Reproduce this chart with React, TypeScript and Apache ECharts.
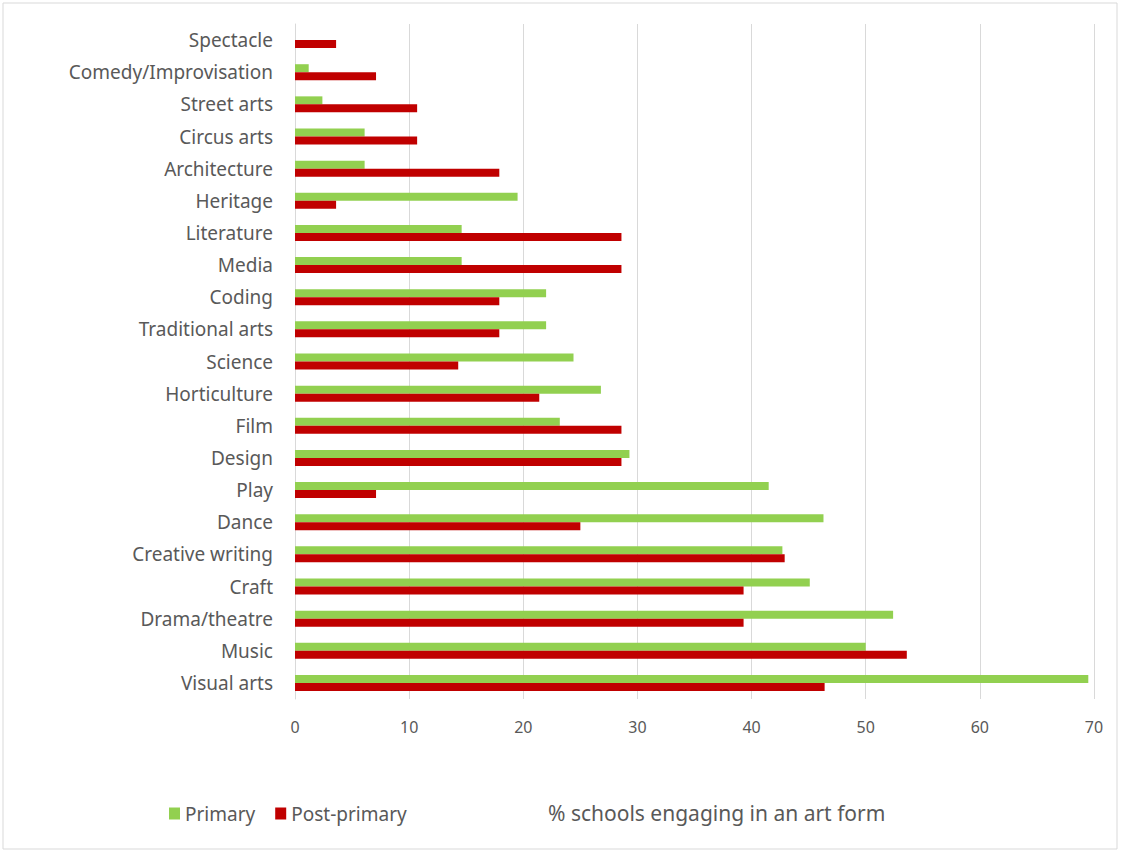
import React, { useEffect, useRef } from "react";
import * as echarts from "echarts";

const categories = [
  "Spectacle",
  "Comedy/Improvisation",
  "Street arts",
  "Circus arts",
  "Architecture",
  "Heritage",
  "Literature",
  "Media",
  "Coding",
  "Traditional arts",
  "Science",
  "Horticulture",
  "Film",
  "Design",
  "Play",
  "Dance",
  "Creative writing",
  "Craft",
  "Drama/theatre",
  "Music",
  "Visual arts",
];

const primary = [
  0, 1.2, 2.4, 6.1, 6.1, 19.5, 14.6, 14.6, 22.0, 22.0, 24.4, 26.8, 23.2, 29.3,
  41.5, 46.3, 42.7, 45.1, 52.4, 50.0, 69.5,
];

const postPrimary = [
  3.6, 7.1, 10.7, 10.7, 17.9, 3.6, 28.6, 28.6, 17.9, 17.9, 14.3, 21.4, 28.6,
  28.6, 7.1, 25.0, 42.9, 39.3, 39.3, 53.6, 46.4,
];

const xTicks = { min: 0, max: 70, interval: 10 };
const axisTitle = "% schools engaging in an art form";

export default function App() {
  const ref = useRef<HTMLDivElement>(null);
  useEffect(() => {
    if (!ref.current) return;
    const chart = echarts.init(ref.current, null, { renderer: "svg" });
    const font = "'Noto Sans', sans-serif";
    chart.setOption({
      animation: false,
      backgroundColor: "#ffffff",
      textStyle: { fontFamily: font },
      grid: { left: 295, right: 27, top: 24, bottom: 155, containLabel: false },
      legend: {
        data: ["Primary", "Post-primary"],
        left: 164,
        top: 799,
        icon: "rect",
        itemWidth: 11,
        itemHeight: 12,
        itemGap: 20,
        textStyle: { color: "#595959", fontSize: 19, fontFamily: font },
      },
      xAxis: {
        type: "value",
        min: xTicks.min,
        max: xTicks.max,
        interval: xTicks.interval,
        axisLine: { show: false },
        axisTick: { show: false },
        axisLabel: { color: "#595959", fontSize: 16, margin: 20, fontFamily: font },
        splitLine: { show: true, lineStyle: { color: "#d9d9d9", width: 1 } },
      },
      yAxis: {
        type: "category",
        inverse: true,
        data: categories,
        axisLine: { show: true, lineStyle: { color: "#d9d9d9" } },
        axisTick: { show: false },
        axisLabel: { color: "#595959", fontSize: 19, margin: 22, fontFamily: font },
      },
      series: [
        {
          name: "Primary",
          type: "bar",
          data: primary,
          barWidth: 8,
          barGap: "0%",
          itemStyle: { color: "#92d050" },
        },
        {
          name: "Post-primary",
          type: "bar",
          data: postPrimary,
          barWidth: 8,
          barGap: "0%",
          itemStyle: { color: "#c00000" },
        },
      ],
      graphic: [
        {
          type: "rect",
          shape: { x: 3, y: 3, width: 1114, height: 846 },
          style: { fill: "none", stroke: "#d9d9d9", lineWidth: 1 },
          silent: true,
        },
        {
          type: "text",
          x: 548,
          y: 813,
          style: {
            text: axisTitle,
            fill: "#595959",
            fontSize: 21,
            fontFamily: font,
            verticalAlign: "middle",
          },
        },
      ],
    });
    return () => chart.dispose();
  }, []);
  return (
    <div
      ref={ref}
      style={{ position: "fixed", left: 0, top: 0, width: 1121, height: 854 }}
    />
  );
}
